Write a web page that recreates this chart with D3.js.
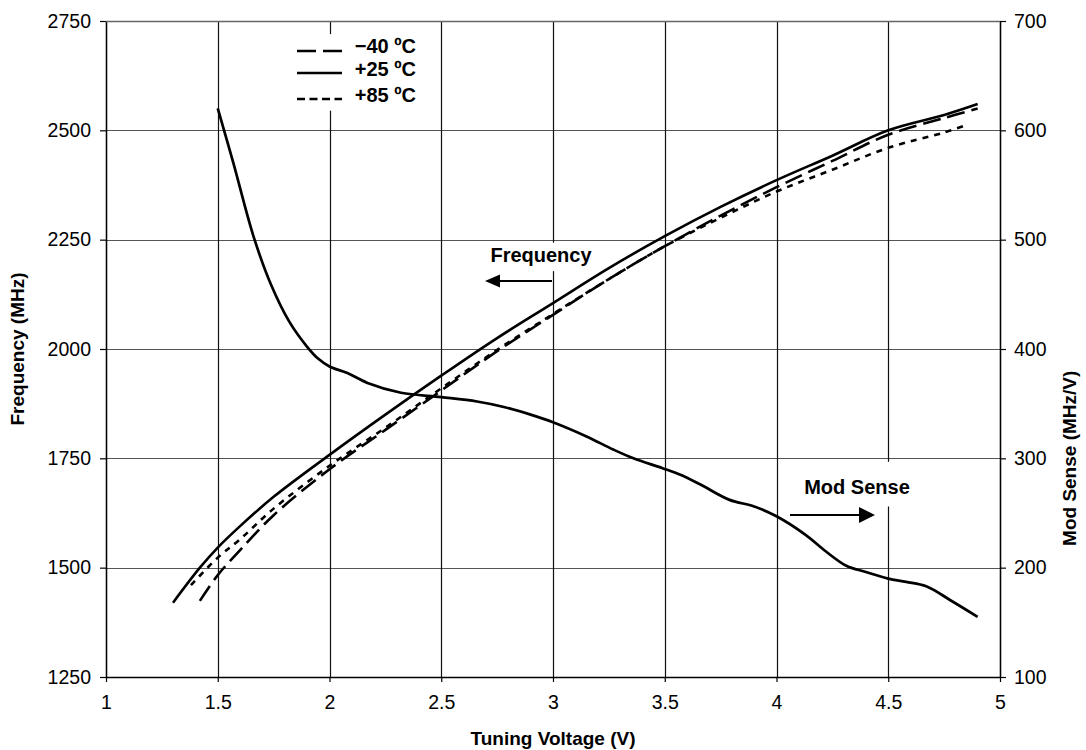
<!DOCTYPE html>
<html>
<head>
<meta charset="utf-8">
<script src="https://cdn.jsdelivr.net/npm/d3@7"></script>
<style>
  body { margin: 0; background: #fff; }
  svg { font-family: "Liberation Sans", Arial, sans-serif; }
</style>
</head>
<body>
<svg id="chart"></svg>
<script>
// Tick values
const xTicks = [1, 1.5, 2, 2.5, 3, 3.5, 4, 4.5, 5];
const freqTicks = [1250, 1500, 1750, 2000, 2250, 2500, 2750];
const modTicks = [100, 200, 300, 400, 500, 600, 700];

// Frequency vs tuning voltage, three temperatures
const v25 = [1.3, 1.42, 1.5, 1.6, 1.75, 2, 2.25, 2.5, 2.75, 3, 3.25, 3.5, 3.75, 4, 4.25, 4.5, 4.75, 4.9];
const f25 = [1420, 1500, 1546, 1595, 1662, 1758, 1850, 1939, 2025, 2105, 2185, 2258, 2325, 2386, 2442, 2500, 2535, 2560];

const vM40 = [1.42, 1.5, 1.6, 1.75, 2, 2.25, 2.5, 2.75, 3, 3.25, 3.5, 3.75, 4, 4.25, 4.5, 4.75, 4.9];
const fM40 = [1424, 1483, 1540, 1620, 1725, 1815, 1905, 1995, 2078, 2160, 2235, 2305, 2370, 2430, 2490, 2528, 2550];

const v85 = [1.38, 1.5, 1.6, 1.75, 2, 2.25, 2.5, 2.75, 3, 3.25, 3.5, 3.75, 4, 4.25, 4.5, 4.75, 4.85];
const f85 = [1460, 1523, 1565, 1635, 1733, 1820, 1910, 1998, 2080, 2160, 2235, 2300, 2360, 2410, 2460, 2495, 2512];

// Mod sense (MHz/V) at +25
const modV = [1.5, 1.57, 1.66, 1.74, 1.82, 1.9, 1.95, 2.0, 2.08, 2.17, 2.32, 2.5, 2.66, 2.78, 2.9, 3.0, 3.15, 3.27, 3.36, 3.49, 3.57, 3.66, 3.79, 3.9, 4.0, 4.13, 4.22, 4.31, 4.4, 4.5, 4.58, 4.67, 4.78, 4.9];
const modSense = [620, 570, 503, 458, 425, 402, 391, 384, 378, 369, 360, 356, 352, 347, 340, 333, 320, 308, 300, 291, 285, 276, 262, 256, 247, 230, 215, 202, 196, 190, 187, 183, 170, 155];

// Dimensions
const W = 1086, H = 750;
const margin = { top: 21, right: 86, bottom: 73, left: 106 };
const width = W - margin.left - margin.right;
const height = H - margin.top - margin.bottom;

const svg = d3.select("#chart").attr("width", W).attr("height", H);
const g = svg.append("g").attr("transform", `translate(${margin.left},${margin.top})`);

const x = d3.scaleLinear().domain([1, 5]).range([0, width]);
const yL = d3.scaleLinear().domain([1250, 2750]).range([height, 0]);
const yR = d3.scaleLinear().domain([100, 700]).range([height, 0]);

// Grid lines
g.append("g")
  .selectAll("line")
  .data(freqTicks)
  .join("line")
  .attr("x1", 0).attr("x2", width)
  .attr("y1", (d) => Math.round(yL(d)) + 0.5)
  .attr("y2", (d) => Math.round(yL(d)) + 0.5)
  .attr("stroke", (d) => (d === 1250 ? "#000" : "#555"))
  .attr("stroke-width", 1.2);

g.append("g")
  .selectAll("line")
  .data(xTicks)
  .join("line")
  .attr("x1", (d) => Math.round(x(d)) + 0.5)
  .attr("x2", (d) => Math.round(x(d)) + 0.5)
  .attr("y1", 0).attr("y2", height)
  .attr("stroke", "#111")
  .attr("stroke-width", 1.2);

// White boxes behind labels (they break the grid)
const boxes = [
  { x0: 1.79, x1: 2.45, y0: 2720, y1: 2545 },
  { x0: 2.68, x1: 3.18, y0: 2243, y1: 2178 },
  { x0: 4.07, x1: 4.61, y0: 1742, y1: 1640 }
];
g.append("g")
  .selectAll("rect")
  .data(boxes)
  .join("rect")
  .attr("x", (d) => x(d.x0))
  .attr("width", (d) => x(d.x1) - x(d.x0))
  .attr("y", (d) => yL(d.y0))
  .attr("height", (d) => yL(d.y1) - yL(d.y0))
  .attr("fill", "#fff");

// Axes
const axisStyle = (sel) => {
  sel.selectAll("text")
    .style("font-size", "19.5px")
    .attr("fill", "#000");
  sel.selectAll("line").attr("stroke", "#000").attr("stroke-width", 1.2);
  sel.select(".domain").attr("stroke", "#000").attr("stroke-width", 1.4);
};

g.append("g")
  .attr("transform", `translate(0,${height})`)
  .call(d3.axisBottom(x).tickValues(xTicks).tickFormat(d3.format("")).tickSizeInner(5).tickSizeOuter(0).tickPadding(13))
  .call(axisStyle);

g.append("g")
  .call(d3.axisLeft(yL).tickValues(freqTicks).tickFormat(d3.format("")).tickSizeInner(6).tickSizeOuter(0).tickPadding(9))
  .call(axisStyle);

g.append("g")
  .attr("transform", `translate(${width},0)`)
  .call(d3.axisRight(yR).tickValues(modTicks).tickFormat(d3.format("")).tickSizeInner(6).tickSizeOuter(0).tickPadding(8))
  .call(axisStyle);

// top border
g.append("line")
  .attr("x1", 0).attr("x2", width)
  .attr("y1", 0.5).attr("y2", 0.5)
  .attr("stroke", "#666").attr("stroke-width", 1.4);

// Curves
const freqLine = d3.line()
  .x((d) => x(d[0]))
  .y((d) => yL(d[1]))
  .curve(d3.curveCatmullRom.alpha(0.5));

const modLine = d3.line()
  .x((d) => x(d[0]))
  .y((d) => yR(d[1]))
  .curve(d3.curveCatmullRom.alpha(0.5));

const series = [
  { v: vM40, f: fM40, dash: "18,7" },
  { v: v85, f: f85, dash: "6,6" },
  { v: v25, f: f25, dash: null }
];

series.forEach((s) => {
  g.append("path")
    .datum(d3.zip(s.v, s.f))
    .attr("d", freqLine)
    .attr("fill", "none")
    .attr("stroke", "#000")
    .attr("stroke-width", 2.6)
    .attr("stroke-dasharray", s.dash);
});

g.append("path")
  .datum(d3.zip(modV, modSense))
  .attr("d", modLine)
  .attr("fill", "none")
  .attr("stroke", "#000")
  .attr("stroke-width", 2.7);

// Legend
const legend = [
  { label: "\u221240 \u00baC", dash: "19,7", y: 51, ty: 53 },
  { label: "+25 \u00baC", dash: null, y: 73, ty: 76 },
  { label: "+85 \u00baC", dash: "8,4.5", y: 99, ty: 101.5 }
];
const lg = svg.append("g");
legend.forEach((d) => {
  lg.append("line")
    .attr("x1", 297).attr("x2", 342)
    .attr("y1", d.y).attr("y2", d.y)
    .attr("stroke", "#000")
    .attr("stroke-width", 2.6)
    .attr("stroke-dasharray", d.dash);
  lg.append("text")
    .attr("x", 416).attr("y", d.ty)
    .attr("text-anchor", "end")
    .style("font-size", "20px")
    .style("font-weight", "bold")
    .text(d.label);
});

// Annotations
const ann = svg.append("g").style("font-weight", "bold").style("font-size", "20px");

ann.append("text")
  .attr("x", 541).attr("y", 262)
  .attr("text-anchor", "middle")
  .text("Frequency");
ann.append("line")
  .attr("x1", 552).attr("x2", 498)
  .attr("y1", 281).attr("y2", 281)
  .attr("stroke", "#000").attr("stroke-width", 2);
ann.append("path")
  .attr("d", "M485,281 L500,274.5 L500,287.5 Z")
  .attr("fill", "#000");

ann.append("text")
  .attr("x", 857).attr("y", 494)
  .attr("text-anchor", "middle")
  .text("Mod Sense");
ann.append("line")
  .attr("x1", 790).attr("x2", 862)
  .attr("y1", 515).attr("y2", 515)
  .attr("stroke", "#000").attr("stroke-width", 2);
ann.append("path")
  .attr("d", "M875,515 L859,507 L859,523 Z")
  .attr("fill", "#000");

// Axis titles
const titles = svg.append("g").style("font-weight", "bold").style("font-size", "19px");
titles.append("text")
  .attr("transform", `translate(24,${margin.top + yL(2000)}) rotate(-90)`)
  .attr("text-anchor", "middle")
  .text("Frequency (MHz)");
titles.append("text")
  .attr("transform", `translate(1076,${margin.top + yR(300)}) rotate(-90)`)
  .attr("text-anchor", "middle")
  .text("Mod Sense (MHz/V)");
titles.append("text")
  .attr("x", margin.left + x(3))
  .attr("y", 745)
  .attr("text-anchor", "middle")
  .text("Tuning Voltage (V)");
</script>
</body>
</html>
